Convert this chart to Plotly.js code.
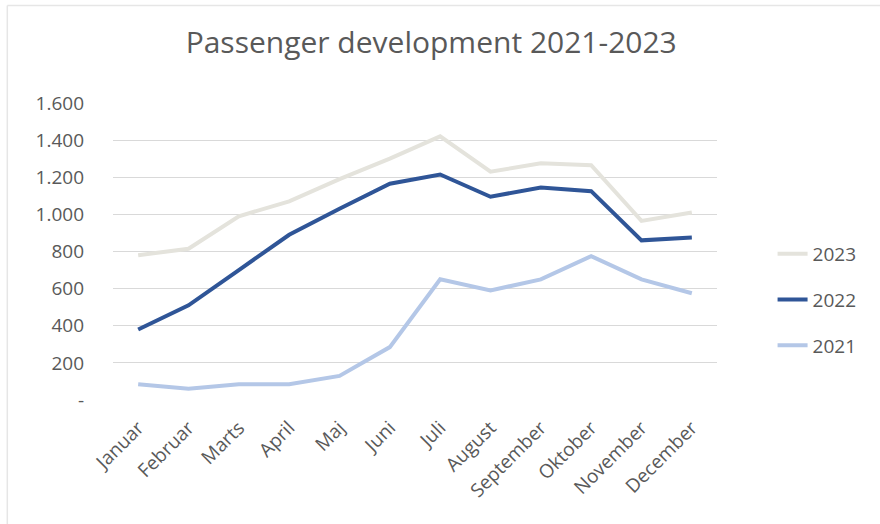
<!DOCTYPE html>
<html>
<head>
<meta charset="utf-8">
<script src="https://cdn.plot.ly/plotly-3.0.1.min.js"></script>
<style>html,body{margin:0;padding:0;background:#fff;}#chart{width:880px;height:524px;}</style>
</head>
<body>
<div id="chart"></div>
<script>
const months = ['Januar','Februar','Marts','April','Maj','Juni','Juli','August','September','Oktober','November','December'];
const values2023 = [780, 815, 990, 1070, 1190, 1300, 1420, 1230, 1275, 1265, 965, 1010];
const values2022 = [380, 510, 700, 890, 1030, 1165, 1215, 1095, 1145, 1125, 860, 875];
const values2021 = [85, 60, 85, 85, 130, 285, 650, 590, 650, 775, 650, 575];
const yTickVals = [0, 200, 400, 600, 800, 1000, 1200, 1400, 1600];
const yTickText = ['-', '200', '400', '600', '800', '1.000', '1.200', '1.400', '1.600'];

const FONT = 'Open Sans, Liberation Sans, sans-serif';
const traces = [
  {name:'2023', legendgroup:'a', x:months, y:values2023, type:'scatter', mode:'lines', line:{color:'#e4e3dc', width:4}},
  {name:'2022', legendgroup:'b', x:months, y:values2022, type:'scatter', mode:'lines', line:{color:'#2f5597', width:4}},
  {name:'2021', legendgroup:'c', x:months, y:values2021, type:'scatter', mode:'lines', line:{color:'#b4c7e7', width:4}}
];
const layout = {
  width:880, height:524,
  margin:{l:113, r:163, t:103, b:124},
  paper_bgcolor:'#fff', plot_bgcolor:'#fff',
  font:{family:FONT, color:'#595959'},
  title:{text:'Passenger development 2021-2023', font:{family:FONT, size:30, color:'#595959'}, x:0.49, xanchor:'center', y:0.899, yanchor:'bottom'},
  xaxis:{type:'category', range:[-0.5, 11.5], showgrid:false, zeroline:false, showline:false, ticks:'', tickangle:-45, ticklabelstandoff:12, tickfont:{size:19, color:'#595959'}, fixedrange:true},
  yaxis:{range:[0,1600], tickvals:yTickVals, ticktext:yTickText, showgrid:true, gridcolor:'#d9d9d9', gridwidth:1, zeroline:false, showline:false, ticks:'', ticklen:0, ticklabelstandoff:28, tickfont:{size:19, color:'#595959'}, fixedrange:true},
  showlegend:true,
  legend:{x:1.092, xanchor:'left', y:0.337, yanchor:'middle', traceorder:'grouped', font:{size:19, color:'#595959'}, tracegroupgap:18, bgcolor:'rgba(0,0,0,0)'},
  shapes:[
    {type:'line', xref:'paper', yref:'paper', x0:-0.175, x1:1.27, y0:1.3286, y1:1.3286, line:{color:'#e6e6e6', width:1.5}},
    {type:'line', xref:'paper', yref:'paper', x0:-0.175, x1:-0.175, y0:1.3286, y1:-0.42, line:{color:'#e6e6e6', width:1.5}}
  ]
};
Plotly.newPlot('chart', traces, layout, {displayModeBar:false, staticPlot:true});
</script>
</body>
</html>
